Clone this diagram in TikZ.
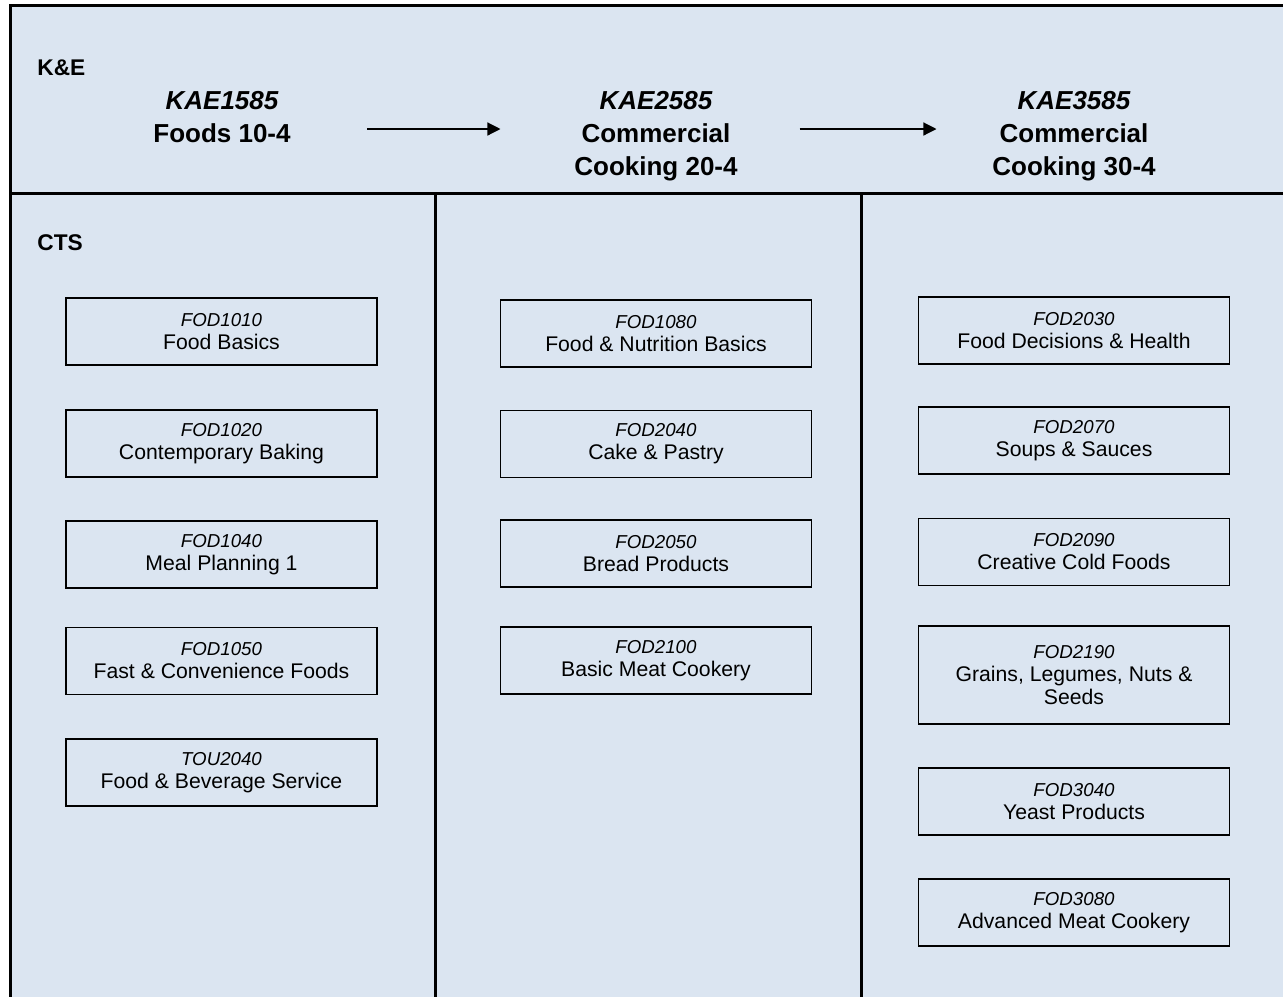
\documentclass[tikz,border=0pt]{standalone}
\usepackage{fontspec}
\setmainfont{Liberation Sans}
\usetikzlibrary{arrows.meta}

\definecolor{panel}{RGB}{219,229,241}
\tikzset{
  course/.style={draw, line width=0.75pt, minimum width=155.5pt, minimum height=33.5pt,
    align=center, inner sep=1pt, font=\fontsize{10.6}{11.5}\selectfont},
  level/.style={anchor=north, align=center, inner sep=0pt, font=\fontsize{13}{16.5}\selectfont\bfseries},
  tag/.style={anchor=west, inner sep=0pt, font=\fontsize{11.35}{13}\selectfont\bfseries},
  flow/.style={-{Triangle[length=6.5pt,width=6.5pt]}, line width=0.6pt}
}
\newcommand{\coursecode}[1]{{\fontsize{9.35}{11}\selectfont\itshape #1}}

\begin{document}
\begin{tikzpicture}[x=0.5pt,y=-0.5pt]
  \useasboundingbox (0,0) rectangle (1283,997);
  % frame
  \fill[panel] (10,5) rectangle (1283,997);
  \draw[line width=1.5pt] (1283,5) -- (10,5) -- (10,997);
  \draw[line width=1.5pt] (10,193) -- (1283,193);
  \draw[line width=1.5pt] (435,193) -- (435,997);
  \draw[line width=1.5pt] (861,193) -- (861,997);

  \node[tag] (ke) at (37,68) {K\&E};
  \node[tag] (cts) at (37,243) {CTS};

  % levels
  \node[level] (h1) at (222,91) {\itshape KAE1585\\Foods 10-4};
  \node[level] (h2) at (656,91) {\itshape KAE2585\\Commercial\\Cooking 20-4};
  \node[level] (h3) at (1074,91) {\itshape KAE3585\\Commercial\\Cooking 30-4};
  \coordinate (row) at (0,129);
  \draw[flow] ([xshift=38pt]h1.east |- row) -- ([xshift=-36.75pt]h2.west |- row);
  \draw[flow] ([xshift=30.75pt]h2.east |- row) -- ([xshift=-27.75pt]h3.west |- row);

  % first column
  \node[course] (fod1010) at (221.5,331.5) {\coursecode{FOD1010}\\Food Basics};
  \node[course] (fod1020) at (221.5,443.5) {\coursecode{FOD1020}\\Contemporary Baking};
  \node[course] (fod1040) at (221.5,554.5) {\coursecode{FOD1040}\\Meal Planning 1};
  \node[course] (fod1050) at (221.5,661) {\coursecode{FOD1050}\\Fast \& Convenience Foods};
  \node[course] (tou2040) at (221.5,772.5) {\coursecode{TOU2040}\\Food \& Beverage Service};

  % second column
  \node[course] (fod1080) at (656,333.5) {\coursecode{FOD1080}\\Food \& Nutrition Basics};
  \node[course] (fod2040) at (656,444) {\coursecode{FOD2040}\\Cake \& Pastry};
  \node[course] (fod2050) at (656,553.5) {\coursecode{FOD2050}\\Bread Products};
  \node[course] (fod2100) at (656,660.5) {\coursecode{FOD2100}\\Basic Meat Cookery};

  % third column
  \node[course] (fod2030) at (1074,330.5) {\coursecode{FOD2030}\\Food Decisions \& Health};
  \node[course] (fod2070) at (1074,440.5) {\coursecode{FOD2070}\\Soups \& Sauces};
  \node[course] (fod2090) at (1074,552) {\coursecode{FOD2090}\\Creative Cold Foods};
  \node[course, minimum height=49pt] (fod2190) at (1074,675) {\coursecode{FOD2190}\\Grains, Legumes, Nuts \&\\Seeds};
  \node[course] (fod3040) at (1074,801.5) {\coursecode{FOD3040}\\Yeast Products};
  \node[course] (fod3080) at (1074,912.5) {\coursecode{FOD3080}\\Advanced Meat Cookery};
\end{tikzpicture}
\end{document}
